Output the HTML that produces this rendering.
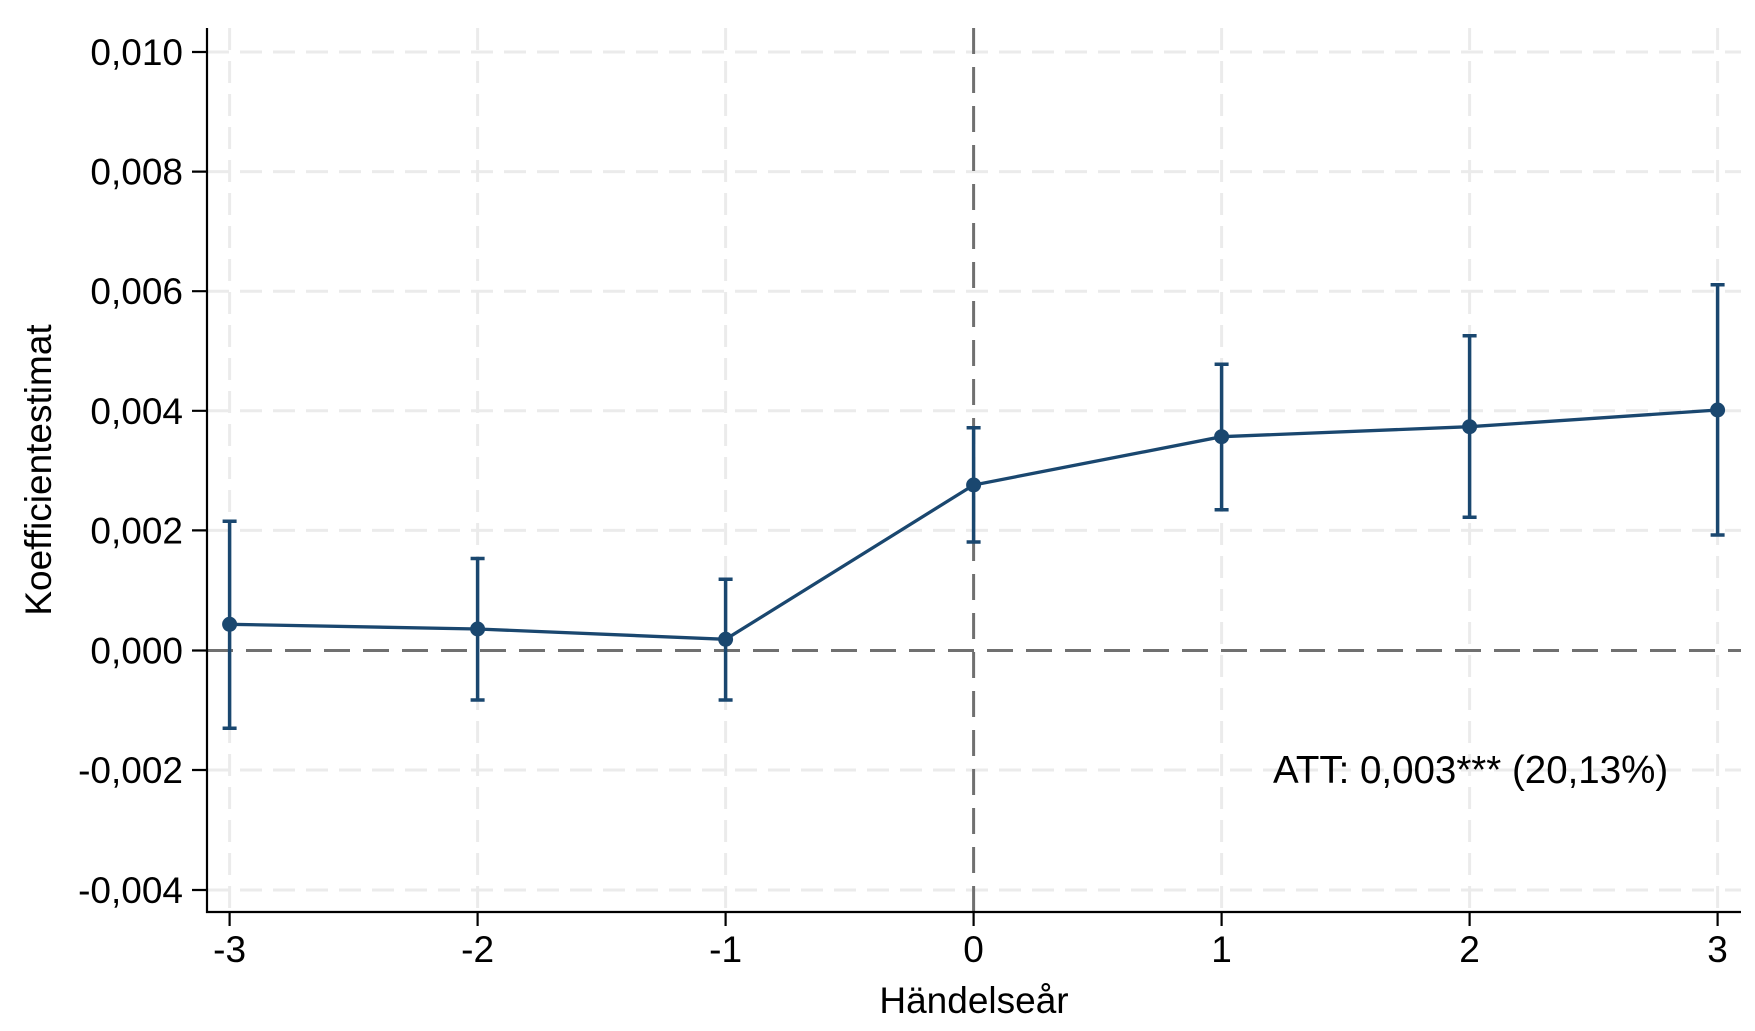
<!DOCTYPE html>
<html><head><meta charset="utf-8"><style>html,body{margin:0;padding:0;background:#fff}svg{display:block}</style></head>
<body>
<svg width="1755" height="1031" viewBox="0 0 1755 1031" xmlns="http://www.w3.org/2000/svg" font-family="Liberation Sans, Arial, sans-serif">
<rect width="1755" height="1031" fill="#fff"/>
<g stroke="#ebebeb" stroke-width="3" stroke-dasharray="22,11">
<line x1="207" x2="1741" y1="52" y2="52"/>
<line x1="207" x2="1741" y1="171.6" y2="171.6"/>
<line x1="207" x2="1741" y1="291.2" y2="291.2"/>
<line x1="207" x2="1741" y1="410.8" y2="410.8"/>
<line x1="207" x2="1741" y1="530.4" y2="530.4"/>
<line x1="207" x2="1741" y1="770" y2="770"/>
<line x1="207" x2="1741" y1="890" y2="890"/>
<line x1="229.6" x2="229.6" y1="28" y2="912"/>
<line x1="477.6" x2="477.6" y1="28" y2="912"/>
<line x1="725.6" x2="725.6" y1="28" y2="912"/>
<line x1="1221.6" x2="1221.6" y1="28" y2="912"/>
<line x1="1469.6" x2="1469.6" y1="28" y2="912"/>
<line x1="1717.6" x2="1717.6" y1="28" y2="912"/>
</g>
<g stroke="#707070" stroke-width="3" stroke-dasharray="26,13">
<line x1="207" x2="1741" y1="650.5" y2="650.5"/>
<line x1="973.6" x2="973.6" y1="28" y2="912"/>
</g>
<g stroke="#1a476f" stroke-width="3.5" fill="none">
<polyline points="229.6,624.3 477.6,629 725.6,639.3 973.6,485 1221.6,436.7 1469.6,426.7 1717.6,410" stroke-width="3.3"/>
<path d="M229.6,521.3V728.3M222.6,521.3H236.6M222.6,728.3H236.6"/>
<path d="M477.6,558.5V700M470.6,558.5H484.6M470.6,700H484.6"/>
<path d="M725.6,579.3V700M718.6,579.3H732.6M718.6,700H732.6"/>
<path d="M973.6,427.7V542M966.6,427.7H980.6M966.6,542H980.6"/>
<path d="M1221.6,364.3V509.7M1214.6,364.3H1228.6M1214.6,509.7H1228.6"/>
<path d="M1469.6,335.7V517.3M1462.6,335.7H1476.6M1462.6,517.3H1476.6"/>
<path d="M1717.6,284.7V535M1710.6,284.7H1724.6M1710.6,535H1724.6"/>
</g>
<g fill="#1a476f">
<circle cx="229.6" cy="624.3" r="7.5"/><circle cx="477.6" cy="629" r="7.5"/><circle cx="725.6" cy="639.3" r="7.5"/>
<circle cx="973.6" cy="485" r="7.5"/><circle cx="1221.6" cy="436.7" r="7.5"/><circle cx="1469.6" cy="426.7" r="7.5"/><circle cx="1717.6" cy="410" r="7.5"/>
</g>
<g stroke="#000" stroke-width="2.2">
<line x1="207" x2="207" y1="28" y2="913"/>
<line x1="206" x2="1741" y1="912" y2="912"/>
<path d="M192,52H207M192,171.6H207M192,291.2H207M192,410.8H207M192,530.4H207M192,650.5H207M192,770H207M192,890H207"/>
<path d="M229.6,912V926M477.6,912V926M725.6,912V926M973.6,912V926M1221.6,912V926M1469.6,912V926M1717.6,912V926"/>
</g>
<g font-size="37" fill="#000" text-anchor="end">
<text x="183" y="65">0,010</text>
<text x="183" y="184.6">0,008</text>
<text x="183" y="304.2">0,006</text>
<text x="183" y="423.8">0,004</text>
<text x="183" y="543.4">0,002</text>
<text x="183" y="663.5">0,000</text>
<text x="183" y="783">-0,002</text>
<text x="183" y="903">-0,004</text>
</g>
<g font-size="37" fill="#000" text-anchor="middle">
<text x="229.6" y="962">-3</text>
<text x="477.6" y="962">-2</text>
<text x="725.6" y="962">-1</text>
<text x="973.6" y="962">0</text>
<text x="1221.6" y="962">1</text>
<text x="1469.6" y="962">2</text>
<text x="1717.6" y="962">3</text>
<text x="974" y="1013">Händelseår</text>
<text transform="translate(51,470) rotate(-90)">Koefficientestimat</text>
</g>
<text x="1273" y="783" font-size="38.5" fill="#000">ATT: 0,003*** (20,13%)</text>
</svg>
</body></html>
